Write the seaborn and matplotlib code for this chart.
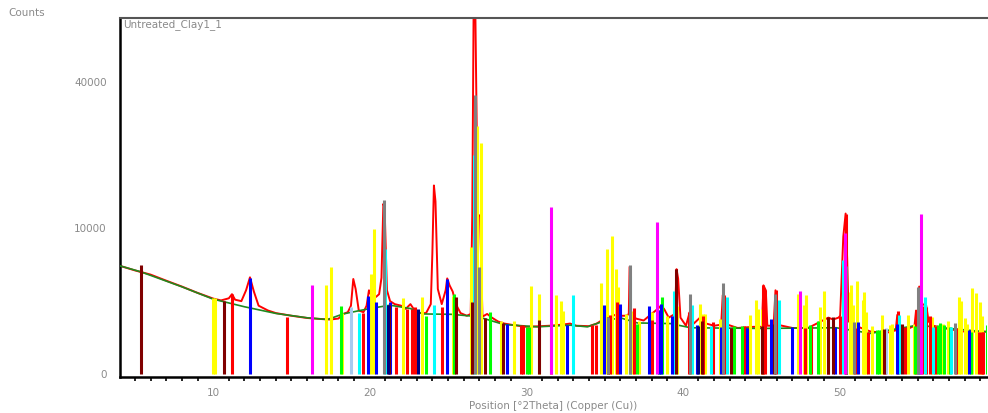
import numpy as np
import matplotlib
matplotlib.use("Agg")
import matplotlib.pyplot as plt
import seaborn as sns

# measured scan (2theta, counts)
scan_x = [4.05, 5, 6, 7, 8, 9, 10, 10.5, 11.0, 11.2, 11.4, 11.8, 12.1, 12.35, 12.6, 12.9,
          13.5, 14, 15, 16, 17, 17.5, 18, 18.3, 18.6, 18.8, 18.95, 19.1, 19.3, 19.6, 19.8,
          19.95, 20.1, 20.4, 20.6, 20.75, 20.87, 20.95, 21.1, 21.3, 21.6, 22.0, 22.3, 22.6,
          22.8, 23.2, 23.6, 23.9, 24.0, 24.1, 24.2, 24.35, 24.6, 24.85, 24.95, 25.1, 25.3,
          25.5, 25.8, 26.2, 26.45, 26.55, 26.65, 26.75, 26.9, 27.05, 27.2, 27.5, 27.8, 28.2,
          28.6, 29.0, 30, 31.5, 32.3, 32.8, 33.2, 34.0, 34.5, 34.9, 35.3, 35.8, 36.1, 36.4,
          36.55, 36.6, 36.68, 37.0, 37.5, 38.0, 38.4, 38.6, 38.8, 39.1, 39.5, 39.6, 39.7,
          39.85, 40.2, 40.45, 40.7, 41.2, 41.5, 42.0, 42.45, 42.55, 42.65, 43.5, 44.5, 45.05,
          45.15, 45.3, 45.4, 45.8, 45.92, 46.02, 47, 48, 49.3, 49.6, 49.95, 50.05, 50.25,
          50.4, 50.5, 50.6, 51.2, 52, 53, 53.6, 53.7, 53.85, 54.5, 54.8, 54.9, 55.05, 55.1,
          55.3, 55.55, 55.7, 56, 57, 58, 59.4]
scan_y = [5500, 5050, 4650, 4100, 3600, 3100, 2680, 2550, 2700, 3000, 2600, 2500, 3300, 4400,
          3200, 2200, 1900, 1750, 1600, 1480, 1420, 1400, 1450, 1700, 1800, 2200, 4250, 3400,
          1900, 1800, 2200, 3300, 2900, 2800, 3000, 4350, 13600, 13000, 3300, 2500, 2300, 2200,
          2000, 2300, 2000, 1750, 1750, 2300, 6800, 16700, 14000, 3400, 2300, 3300, 4300, 3700,
          3200, 2300, 1750, 1600, 1700, 11800, 75000, 60000, 12000, 11700, 1550, 1700, 1500,
          1300, 1200, 1150, 1050, 1100, 1150, 1200, 1100, 1080, 1200, 1400, 1500, 1700, 1600,
          1600, 1700, 5400, 1800, 1450, 1350, 1700, 2000, 2200, 2000, 1500, 1700, 5170, 4290,
          1500, 1100, 1830, 1200, 1580, 1200, 1100, 1150, 2930, 1200, 1000, 1050, 1050,
          3700, 3300, 1100, 1100, 3300, 1150, 1000, 1000, 1500, 1400, 1500, 1600, 8850,
          12100, 6170, 1300, 1050, 850, 800, 900, 1650, 1000, 1000, 1100, 1900, 1500, 3600,
          2300, 2200, 1300, 1100, 950, 850, 850]

# fitted background
bg_x = [4.05, 5.4, 8, 10, 12, 14, 16, 17.3, 18.3, 20, 21.3, 22.6, 23.4, 25.2, 26.4, 27.3,
        28.55, 30.7, 32.8, 33.9, 34.95, 36.0, 37.1, 39.2, 40.5, 45, 49.8, 52, 55, 57, 59.4]
bg_y = [5500, 4900, 3580, 2640, 2130, 1730, 1490, 1400, 1700, 2020, 2230, 2020, 1700, 1680,
        1590, 1450, 1160, 1050, 1125, 1050, 1320, 1490, 1230, 1200, 1010, 980, 1010, 780,
        1125, 980, 840]

# reference pattern sticks, one pair of lists per colour
yellow_pos = [10.0, 10.1, 17.2, 17.55, 18.25, 20.05, 20.25, 22.1, 23.35, 25.3, 26.45, 26.85,
              27.1, 28.4, 29.2, 30.3, 30.8, 31.9, 32.25, 32.35, 34.75, 35.15, 35.5, 35.7,
              35.85, 36.4, 36.8, 37.2, 38.0, 39.0, 39.6, 40.6, 41.1, 41.3, 41.4, 42.4, 44.3,
              44.7, 44.8, 45.05, 47.35, 47.75, 47.9, 48.75, 49.0, 50.65, 50.75, 50.85, 51.1,
              51.5, 51.6, 51.7, 52.1, 52.7, 53.25, 53.35, 54.4, 54.75, 55.9, 56.2, 56.65,
              56.95, 57.65, 57.8, 58.0, 58.15, 58.5, 58.75, 59.0, 59.1]
yellow_cts = [2710, 2710, 3720, 5340, 1745, 4690, 9820, 2690, 2760, 2850, 7600, 28850,
              24960, 1330, 1330, 3630, 3050, 2930, 2500, 1900, 3900, 7300, 8980, 5170,
              3580, 1700, 1900, 1350, 1800, 1600, 2170, 1880, 2340, 1700, 1700, 1450, 1660,
              2610, 2000, 2000, 3050, 2230, 2930, 2130, 3230, 3180, 3720, 2230, 4060,
              2570, 3130, 1800, 1100, 1660, 1130, 1200, 1650, 1200, 1550, 1100, 1200,
              1350, 2760, 2510, 1500, 1200, 3520, 3100, 2410, 1600]

red_pos = [11.2, 14.7, 19.6, 21.7, 22.4, 22.7, 22.9, 24.6, 29.65, 29.8, 31.6, 34.2, 34.45,
           35.35, 35.8, 36.85, 38.05, 40.4, 41.3, 41.9, 42.6, 43.9, 45.15, 45.25, 45.95,
           47.8, 48.2, 49.3, 50.05, 50.4, 51.0, 51.8, 52.9, 53.75, 54.2, 54.9, 55.3, 55.55,
           55.8, 56.1, 57.45, 58.9, 59.1, 59.2]
red_cts = [3000, 1540, 1745, 2130, 2000, 2000, 2100, 2100, 1130, 1130, 1100, 1130, 1130,
           1630, 2450, 2080, 1400, 1830, 1580, 1300, 2930, 1100, 3720, 3300, 3310,
           1000, 1100, 1500, 1600, 12100, 1000, 850, 850, 1900, 1050, 1930, 2200, 2130,
           1600, 1100, 1000, 850, 850, 850]

blue_pos = [12.35, 19.9, 20.4, 21.3, 24.95, 28.8, 32.6, 34.95, 36.0, 37.85, 38.5, 38.6,
            39.3, 40.9, 42.45, 44.1, 45.65, 47.0, 49.7, 51.2, 53.7, 55.1, 58.3]
blue_cts = [4320, 2850, 2410, 2450, 4290, 1170, 1130, 2270, 2340, 2170, 1950, 2340,
            1600, 1120, 1050, 1000, 1450, 1050, 1050, 1300, 1200, 1700, 900]

green_pos = [18.15, 23.6, 25.4, 27.7, 30.05, 30.15, 37.1, 38.45, 38.7, 43.3, 43.8, 48.1,
             48.65, 52.4, 52.5, 54.8, 56.3, 56.45, 56.7, 57.05, 58.4, 59.4]
green_cts = [2190, 1580, 3050, 1830, 1050, 1050, 1200, 1950, 2760, 1100, 1100, 1150,
             1350, 900, 900, 1100, 1150, 1250, 1150, 1050, 850, 1150]

cyan_pos = [19.3, 21.0, 24.1, 26.65, 33.0, 36.65, 39.45, 40.6, 41.8, 42.8, 46.15, 50.25,
            53.8, 55.45, 56.0, 57.15]
cyan_cts = [1745, 7300, 2230, 22500, 2930, 4500, 3230, 2230, 1100, 2760, 2610, 6100,
            1650, 2760, 1050, 1050]

magenta_pos = [16.3, 31.55, 38.35, 47.5, 50.35, 55.2]
magenta_cts = [3720, 13030, 10800, 3230, 9290, 11970]

maroon_pos = [5.4, 10.7, 21.2, 25.5, 26.55, 27.35, 28.5, 30.8, 35.25, 39.55, 41.2, 43.1,
              45.05, 45.85, 49.25, 49.6, 50.45, 52.85, 54.0]
maroon_cts = [5570, 2520, 2230, 2800, 2450, 1470, 1230, 1400, 1550, 5170, 1320, 1000,
              1100, 1200, 1550, 1550, 1000, 950, 1200]

gray_pos = [20.9, 26.7, 26.95, 35.2, 36.6, 40.45, 42.55, 45.9, 50.45, 50.95, 55.05, 57.4]
gray_cts = [14200, 36500, 5400, 1550, 5540, 3050, 3940, 3050, 5500, 1300, 3580, 1250]

navy_pos = [21.15, 23.1, 40.95]
navy_cts = [2230, 2020, 1100]

lightblue_pos = [18.8, 52.95]
lightblue_cts = [2130, 1000]

sticks = [
    (yellow_pos, yellow_cts, "#ffff00"),
    (red_pos, red_cts, "#ff0000"),
    (green_pos, green_cts, "#00ff00"),
    (cyan_pos, cyan_cts, "#00ffff"),
    (lightblue_pos, lightblue_cts, "#a6caf0"),
    (blue_pos, blue_cts, "#0000ff"),
    (maroon_pos, maroon_cts, "#800000"),
    (navy_pos, navy_cts, "#000080"),
    (gray_pos, gray_cts, "#808080"),
    (magenta_pos, magenta_cts, "#ff00ff"),
]

sns.set_style("white")
plt.rcParams["font.family"] = ["DejaVu Sans"]

fig = plt.figure(figsize=(9.88, 4.13), dpi=100)
ax = fig.add_axes([0.1215, 0.087, 0.877, 0.869])

sns.lineplot(x=scan_x, y=scan_y, color="#ff0000", lw=1.4, ax=ax, zorder=2)
sns.lineplot(x=bg_x, y=bg_y, color="#1f8a1f", lw=1.2, ax=ax, zorder=3)

for pos, cts, col in sticks:
    ax.vlines(pos, 0, cts, colors=col, lw=2.2, zorder=4)


def fwd(v):
    v = np.asarray(v, dtype=float)
    return np.sign(v) * np.sqrt(np.abs(v))


def inv(v):
    v = np.asarray(v, dtype=float)
    return np.sign(v) * v ** 2


ax.set_yscale("function", functions=(fwd, inv))
ax.set_ylim(-4, 59450)
ax.set_xlim(4.05, 59.4)

ax.set_yticks([0, 10000, 40000])
ax.set_yticklabels(["0", "10000", "40000"])
ax.set_xticks([10, 20, 30, 40, 50])
ax.set_xticks(np.arange(5, 60, 1), minor=True)
ax.tick_params(axis="both", which="major", direction="out", length=6, width=1.5,
               colors="black", labelcolor="#8a8a8a", labelsize=7.5)
ax.tick_params(axis="x", which="minor", direction="out", length=3, width=1.2,
               colors="black", bottom=True)
ax.tick_params(axis="x", pad=2)

for side in ["left", "bottom"]:
    ax.spines[side].set_color("black")
    ax.spines[side].set_linewidth(1.8)
ax.spines["top"].set_color("#555555")
ax.spines["top"].set_linewidth(1.5)
ax.spines["right"].set_visible(False)

ax.set_xlabel("Position [°2Theta] (Copper (Cu))", color="#8a8a8a", fontsize=7.5, labelpad=2)
ax.set_ylabel("")
fig.text(0.008, 0.968, "Counts", color="#8a8a8a", fontsize=7.5, ha="left", va="center")
ax.text(0.003, 0.997, "Untreated_Clay1_1", transform=ax.transAxes, color="#8a8a8a",
        fontsize=7.5, ha="left", va="top")

fig.savefig("out.png", dpi=100)
